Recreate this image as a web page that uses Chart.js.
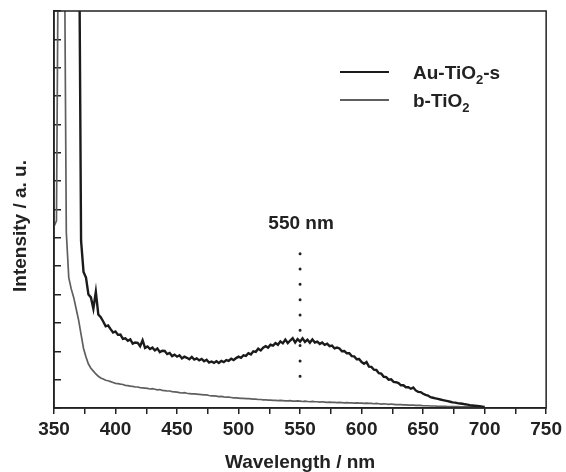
<!DOCTYPE html>
<html lang="en">
<head>
    <meta charset="UTF-8">
    <title>PL spectra</title>
    <script src="https://cdn.jsdelivr.net/npm/chart.js"></script>
    <style>
        html, body { margin: 0; padding: 0; background: #fff; }
        #wrap { width: 566px; height: 472px; }
    </style>
</head>
<body>
<div id="wrap"><canvas id="plChart" width="566" height="472"></canvas></div>

<script>
    // wavelength grid (nm)
    const wavelengths = [
        350, 352, 354, 356, 358, 360, 362, 364, 366, 368,
        370, 372, 374, 376, 378, 380, 382, 384, 386, 388,
        390, 392, 394, 396, 398, 400, 402, 404, 406, 408,
        410, 412, 414, 416, 418, 420, 422, 424, 426, 428,
        430, 432, 434, 436, 438, 440, 442, 444, 446, 448,
        450, 452, 454, 456, 458, 460, 462, 464, 466, 468,
        470, 472, 474, 476, 478, 480, 482, 484, 486, 488,
        490, 492, 494, 496, 498, 500, 502, 504, 506, 508,
        510, 512, 514, 516, 518, 520, 522, 524, 526, 528,
        530, 532, 534, 536, 538, 540, 542, 544, 546, 548,
        550, 552, 554, 556, 558, 560, 562, 564, 566, 568,
        570, 572, 574, 576, 578, 580, 582, 584, 586, 588,
        590, 592, 594, 596, 598, 600, 602, 604, 606, 608,
        610, 612, 614, 616, 618, 620, 622, 624, 626, 628,
        630, 632, 634, 636, 638, 640, 642, 644, 646, 648,
        650, 652, 654, 656, 658, 660, 662, 664, 666, 668,
        670, 672, 674, 676, 678, 680, 682, 684, 686, 688,
        690, 692, 694, 696, 698, 700
    ];

    // Au-TiO2-s intensity (a. u.), saturated below ~371 nm
    const auTiO2 = [
        20, 20, 20, 20, 20, 20, 20, 20, 20, 20,
        20, 5.9, 4.8, 4.6, 4.0, 3.9, 3.5, 4.1, 3.3, 3.2,
        3.05, 2.88, 2.91, 2.78, 2.66, 2.7, 2.58, 2.59, 2.44, 2.46,
        2.37, 2.42, 2.27, 2.31, 2.3, 2.18, 2.39, 2.12, 2.17, 2.08,
        2.13, 2.03, 2.1, 1.97, 2.02, 2.01, 1.9, 1.94, 1.83, 1.88,
        1.81, 1.86, 1.75, 1.81, 1.77, 1.72, 1.8, 1.71, 1.75, 1.68,
        1.73, 1.65, 1.7, 1.6, 1.64, 1.59, 1.65, 1.59, 1.66, 1.62,
        1.69, 1.66, 1.74, 1.69, 1.76, 1.81, 1.77, 1.86, 1.84, 1.93,
        1.89, 2.0, 1.98, 2.09, 2.03, 2.13, 2.18, 2.13, 2.23, 2.2,
        2.29, 2.23, 2.35, 2.28, 2.41, 2.29, 2.38, 2.46, 2.31, 2.43,
        2.34, 2.46, 2.33, 2.41, 2.3, 2.42, 2.31, 2.34, 2.26, 2.31,
        2.23, 2.27, 2.18, 2.2, 2.1, 2.13, 2.1, 2.0, 2.01, 1.93,
        1.93, 1.83, 1.82, 1.72, 1.73, 1.62, 1.56, 1.62, 1.46, 1.45,
        1.35, 1.34, 1.23, 1.21, 1.1, 1.09, 1.0, 1.01, 0.92, 0.91,
        0.88, 0.8, 0.8, 0.73, 0.73, 0.68, 0.72, 0.62, 0.57, 0.56,
        0.5, 0.46, 0.44, 0.38, 0.36, 0.34, 0.32, 0.3, 0.28, 0.26,
        0.24, 0.22, 0.2, 0.19, 0.17, 0.16, 0.15, 0.13, 0.12, 0.1,
        0.09, 0.08, 0.07, 0.06, 0.05, 0.04
    ];

    // b-TiO2 intensity (a. u.)
    const bTiO2 = [
        6.4, 6.6, 20, 20, 20, 6.2, 4.6, 4.2, 3.9, 3.5,
        3.1, 2.6, 2.1, 1.8, 1.55, 1.4, 1.3, 1.2, 1.12, 1.06,
        1.02, 0.98, 0.96, 0.93, 0.9, 0.87, 0.86, 0.84, 0.83, 0.8,
        0.79, 0.77, 0.76, 0.74, 0.74, 0.72, 0.71, 0.7, 0.69, 0.67,
        0.68, 0.66, 0.64, 0.65, 0.62, 0.61, 0.6, 0.6, 0.58, 0.57,
        0.56, 0.54, 0.53, 0.54, 0.52, 0.51, 0.5, 0.5, 0.49, 0.48,
        0.47, 0.46, 0.46, 0.44, 0.43, 0.43, 0.42, 0.4, 0.41, 0.39,
        0.38, 0.38, 0.37, 0.36, 0.36, 0.35, 0.34, 0.34, 0.33, 0.33,
        0.32, 0.31, 0.31, 0.3, 0.3, 0.29, 0.29, 0.28, 0.28, 0.27,
        0.27, 0.26, 0.27, 0.26, 0.25, 0.25, 0.26, 0.24, 0.24, 0.25,
        0.24, 0.23, 0.24, 0.23, 0.22, 0.23, 0.22, 0.22, 0.21, 0.22,
        0.21, 0.2, 0.21, 0.2, 0.2, 0.19, 0.2, 0.19, 0.18, 0.19,
        0.18, 0.18, 0.17, 0.18, 0.17, 0.17, 0.16, 0.17, 0.16, 0.16,
        0.15, 0.16, 0.15, 0.14, 0.15, 0.14, 0.13, 0.14, 0.13, 0.12,
        0.12, 0.12, 0.11, 0.11, 0.1, 0.1, 0.1, 0.09, 0.09, 0.09,
        0.08, 0.08, 0.08, 0.07, 0.07, 0.07, 0.06, 0.06, 0.06, 0.06,
        0.05, 0.05, 0.05, 0.05, 0.05, 0.04, 0.04, 0.04, 0.04, 0.04,
        0.04, 0.04, 0.03, 0.04, 0.03, 0.03
    ];

    // axis ranges / ticks
    const xRange = [350, 750];
    const xTickStep = 25;
    const xLabelStep = 50;
    const yRange = [0, 14];
    const yTickStep = 1;

    // 550 nm marker (dotted line + label)
    const markerX = 550;
    const markerSpan = [1.1, 5.44];
    const markerLabelY = 6.5;
    const markerLabel = '550 nm';

    const seriesNames = ['Au-TiO2-s', 'b-TiO2'];
    const seriesColors = ['#1b1b1b', '#5f5f5f'];

    const FONT = '"Liberation Sans", Arial, Helvetica, sans-serif';
    const INK = '#222';

    const toPoints = (ys) => wavelengths.map((x, i) => ({ x: x, y: ys[i] }));

    // frame, y title, marker label and legend with subscripts
    const decorations = {
        id: 'decorations',
        afterDraw(chart) {
            const ctx = chart.ctx;
            const a = chart.chartArea;
            const xs = chart.scales.x, ys = chart.scales.y;
            ctx.save();

            // box around the plot
            ctx.strokeStyle = INK;
            ctx.lineWidth = 1.5;
            ctx.strokeRect(a.left, a.top, a.right - a.left, a.bottom - a.top);

            ctx.fillStyle = INK;
            ctx.font = 'bold 19px ' + FONT;

            // y axis title, sits a bit below the axis centre
            ctx.save();
            ctx.translate(21, 226);
            ctx.rotate(-Math.PI / 2);
            ctx.textAlign = 'center';
            ctx.textBaseline = 'middle';
            ctx.fillText('Intensity / a. u.', 0, 0);
            ctx.restore();

            // marker label
            ctx.textAlign = 'center';
            ctx.textBaseline = 'middle';
            ctx.fillText(markerLabel, xs.getPixelForValue(markerX) + 1, ys.getPixelForValue(markerLabelY));

            // legend
            const rows = [
                { y: 72, color: seriesColors[0], parts: ['Au-TiO', '2', '-s'] },
                { y: 100, color: seriesColors[1], parts: ['b-TiO', '2', ''] }
            ];
            ctx.textAlign = 'left';
            ctx.textBaseline = 'alphabetic';
            rows.forEach(r => {
                ctx.strokeStyle = r.color;
                ctx.lineWidth = 1.8;
                ctx.beginPath();
                ctx.moveTo(340, r.y);
                ctx.lineTo(389, r.y);
                ctx.stroke();

                let tx = 413;
                const base = r.y + 6.5;
                ctx.font = 'bold 19px ' + FONT;
                ctx.fillText(r.parts[0], tx, base);
                tx += ctx.measureText(r.parts[0]).width;
                ctx.font = 'bold 13px ' + FONT;
                ctx.fillText(r.parts[1], tx, base + 5);
                tx += ctx.measureText(r.parts[1]).width;
                ctx.font = 'bold 19px ' + FONT;
                ctx.fillText(r.parts[2], tx, base);
            });

            ctx.restore();
        }
    };

    new Chart(document.getElementById('plChart'), {
        type: 'line',
        data: {
            datasets: [
                {
                    label: seriesNames[0],
                    data: toPoints(auTiO2),
                    borderColor: seriesColors[0],
                    borderWidth: 2.4,
                    pointRadius: 0,
                    tension: 0
                },
                {
                    label: seriesNames[1],
                    data: toPoints(bTiO2),
                    borderColor: seriesColors[1],
                    borderWidth: 1.7,
                    pointRadius: 0,
                    tension: 0
                },
                {
                    label: markerLabel,
                    data: [{ x: markerX, y: markerSpan[1] }, { x: markerX, y: markerSpan[0] }],
                    borderColor: INK,
                    borderWidth: 3,
                    borderDash: [0.01, 15.3],
                    borderCapStyle: 'round',
                    pointRadius: 0
                }
            ]
        },
        options: {
            responsive: false,
            animation: false,
            events: [],
            layout: { padding: { top: 11, right: 17, left: 0, bottom: 0 } },
            plugins: {
                legend: { display: false },
                tooltip: { enabled: false }
            },
            scales: {
                x: {
                    type: 'linear',
                    min: xRange[0],
                    max: xRange[1],
                    afterFit(s) { s.height = 64; },
                    border: { display: true, color: INK, width: 1.5 },
                    grid: { drawOnChartArea: false, drawTicks: true, tickLength: 6, color: INK, lineWidth: 1.5 },
                    ticks: {
                        stepSize: xTickStep,
                        autoSkip: false,
                        maxRotation: 0,
                        padding: 4,
                        color: INK,
                        font: { family: FONT, size: 19, weight: 'bold' },
                        callback: (v) => (v % xLabelStep === 0 ? v : '')
                    },
                    title: {
                        display: true,
                        text: 'Wavelength / nm',
                        color: INK,
                        padding: 0,
                        font: { family: FONT, size: 19, weight: 'bold', lineHeight: 0.95 }
                    }
                },
                y: {
                    min: yRange[0],
                    max: yRange[1],
                    afterFit(s) { s.width = 54; },
                    border: { display: true, color: INK, width: 1.5 },
                    grid: { drawOnChartArea: false, drawTicks: true, tickLength: -7, color: INK, lineWidth: 1.5 },
                    ticks: { stepSize: yTickStep, display: false }
                }
            }
        },
        plugins: [decorations]
    });
</script>
</body>
</html>
